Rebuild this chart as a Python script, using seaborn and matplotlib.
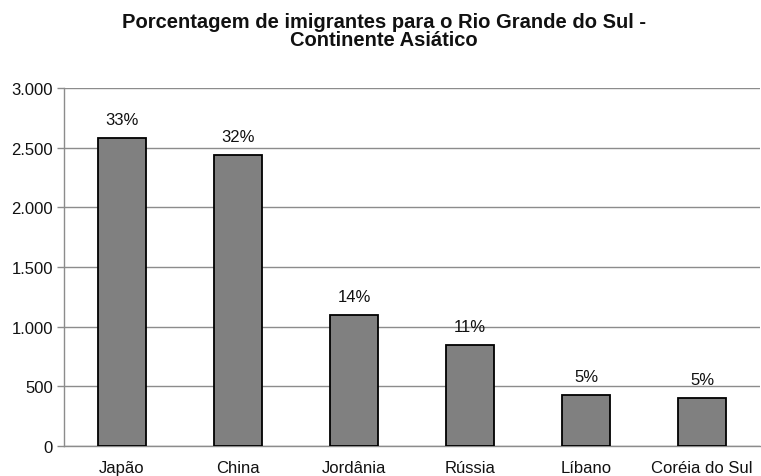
import matplotlib
matplotlib.use("Agg")
import matplotlib.pyplot as plt
import seaborn as sns
import pandas as pd
from matplotlib.ticker import FuncFormatter, FixedLocator

paises = ["Japão", "China", "Jordânia", "Rússia", "Líbano", "Coréia do Sul"]
imigrantes = [2580, 2440, 1100, 845, 430, 400]
percentuais = ["33%", "32%", "14%", "11%", "5%", "5%"]
y_ticks = [0, 500, 1000, 1500, 2000, 2500, 3000]

sns.set_style("white")
plt.rcParams["font.family"] = ["Liberation Sans", "DejaVu Sans"]

df = pd.DataFrame({"pais": paises, "imigrantes": imigrantes})

fig = plt.figure(figsize=(7.61, 4.77), dpi=100)
ax = fig.add_axes([0.084, 0.063, 0.915, 0.750])

sns.barplot(data=df, x="pais", y="imigrantes", color="#808080",
            saturation=1, width=0.41, edgecolor="black", linewidth=1.3,
            ax=ax, zorder=3)

ax.set_ylim(0, 3000)
ax.set_xlim(-0.5, len(paises) - 0.5)
ax.yaxis.set_major_locator(FixedLocator(y_ticks))
ax.yaxis.set_major_formatter(FuncFormatter(lambda v, p: f"{int(v):,}".replace(",", ".")))
ax.grid(axis="y", color="#8c8c8c", linewidth=1, zorder=0)
ax.set_axisbelow(True)

for side in ("top", "right"):
    ax.spines[side].set_visible(False)
for side in ("left", "bottom"):
    ax.spines[side].set_color("#8c8c8c")
    ax.spines[side].set_linewidth(1)

# tick marks between categories, labels centred under the bars
ax.set_xticks([i - 0.5 for i in range(len(paises) + 1)], minor=True)
ax.tick_params(axis="x", which="minor", length=5, width=1, color="#8c8c8c", direction="out")
ax.tick_params(axis="x", which="major", length=0, pad=10, labelsize=12, labelcolor="#111111")
ax.tick_params(axis="y", which="major", length=5, width=1, color="#8c8c8c", direction="out",
               left=True, labelsize=12, labelcolor="#111111", pad=3)

ax.set_xlabel("")
ax.set_ylabel("")

for i, (v, lbl) in enumerate(zip(imigrantes, percentuais)):
    ax.annotate(lbl, (i, v), xytext=(0, 8), textcoords="offset points",
                ha="center", va="bottom", fontsize=12, color="#111111")

fig.text(0.504, 0.934, "Porcentagem de imigrantes para o Rio Grande do Sul -\nContinente Asiático",
         ha="center", va="center", fontsize=14.5, fontweight="bold", color="#111111",
         linespacing=0.95)

fig.savefig("out.png", dpi=100)
